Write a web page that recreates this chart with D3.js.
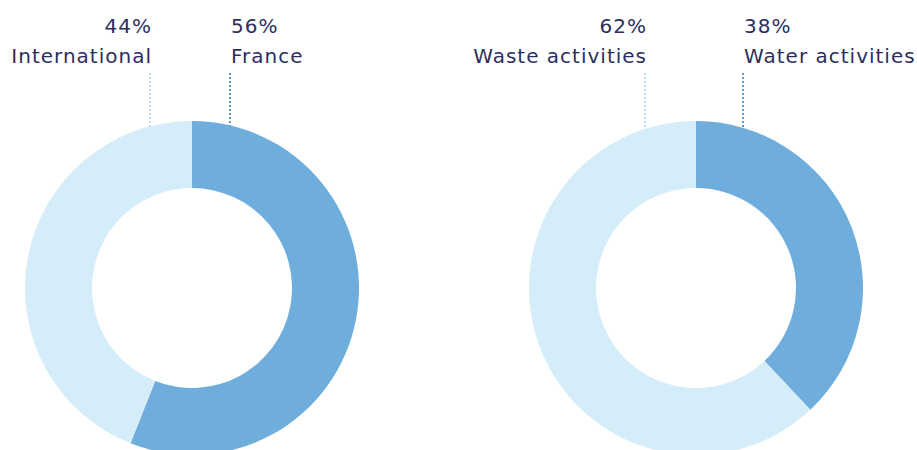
<!DOCTYPE html>
<html>
<head>
<meta charset="utf-8">
<script src="https://cdn.jsdelivr.net/npm/d3@7"></script>
<style>
  html, body { margin: 0; padding: 0; background: #ffffff; }
  svg { display: block; }
  text { font-family: "DejaVu Sans", sans-serif; letter-spacing: 1px; }
</style>
</head>
<body>
<svg id="chart" width="917" height="450"></svg>
<script>
// Revenue split by geography and by business line
const geoCategories = ["France", "International"];
const geoValues = [56, 44];
const activityCategories = ["Water activities", "Waste activities"];
const activityValues = [38, 62];

const width = 917, height = 450;
const outerR = 167, innerR = 100;
const colors = ["#6eaddc", "#d5edf8"];
const dotColors = ["#5b9fd6", "#bfe0f2"];
const textColor = "#2c2f5d";

const svg = d3.select("#chart");

const pie = d3.pie().sort(null).value(d => d.value);
const arc = d3.arc().innerRadius(innerR).outerRadius(outerR);

function donut(cx, cy, categories, values, labelOffsets) {
  const data = categories.map((c, i) => ({ name: c, value: values[i] }));
  const g = svg.append("g").attr("transform", `translate(${cx},${cy})`);

  g.selectAll("path")
    .data(pie(data))
    .join("path")
    .attr("d", arc)
    .attr("fill", (d, i) => colors[i]);

  // Leader lines and labels: first slice labelled to the right, second to the left
  data.forEach((d, i) => {
    const x = labelOffsets[i];
    const yEdge = -Math.sqrt(outerR * outerR - x * x);
    g.append("line")
      .attr("x1", x).attr("x2", x)
      .attr("y1", -215).attr("y2", yEdge + 1)
      .attr("stroke", dotColors[i])
      .attr("stroke-width", 2)
      .attr("stroke-dasharray", "2,2");

    const anchor = i === 0 ? "start" : "end";
    const tx = i === 0 ? x + 1 : x + 2;
    g.append("text")
      .attr("x", tx).attr("y", -255)
      .attr("text-anchor", anchor)
      .attr("font-size", 20)
      .attr("fill", textColor)
      .text(d.value + "%");
    g.append("text")
      .attr("x", tx).attr("y", -225)
      .attr("text-anchor", anchor)
      .attr("font-size", 20)
      .attr("fill", textColor)
      .text(d.name);
  });
}

donut(192, 288, geoCategories, geoValues, [38, -42]);
donut(696, 288, activityCategories, activityValues, [47, -51]);
</script>
</body>
</html>
